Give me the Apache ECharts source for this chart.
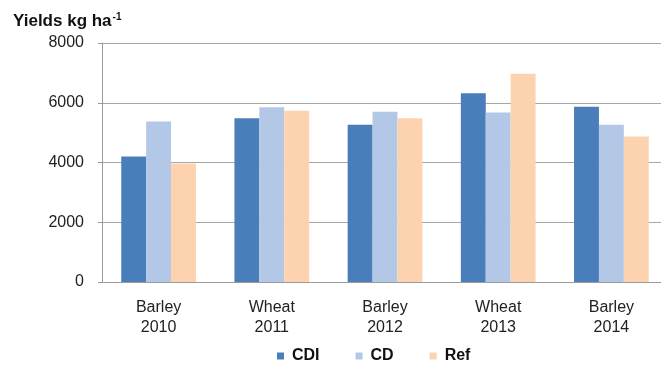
<!DOCTYPE html>
<html>
<head>
<meta charset="utf-8">
<script src="https://cdn.jsdelivr.net/npm/echarts@6/dist/echarts.min.js"></script>
<style>
  html, body { margin: 0; padding: 0; background: #fff; overflow: hidden; }
  /* the source picture is cropped on the right, so the plot runs a bit past the window */
  #chart { width: 668px; height: 367px; }
</style>
</head>
<body>
<div id="chart"></div>
<script>
// data
var categories = ["Barley\n2010", "Wheat\n2011", "Barley\n2012", "Wheat\n2013", "Barley\n2014"];
var cdi = [4200, 5480, 5260, 6320, 5870];
var cd = [5370, 5850, 5700, 5670, 5260];
var ref = [3970, 5730, 5480, 6970, 4870];
var yTicks = [0, 2000, 4000, 6000, 8000];

var chart = echarts.init(document.getElementById("chart"));
var font = "Liberation Sans, Arial, sans-serif";

chart.setOption({
  animation: false,
  textStyle: { fontFamily: font },
  title: {
    text: "{a|Yields kg ha}{s|-1}",
    left: 8,
    top: 7,
    textStyle: {
      rich: {
        a: { fontFamily: font, fontSize: 17, fontWeight: "bold", color: "#111" },
        s: { fontFamily: font, fontSize: 10, fontWeight: "bold", color: "#111", verticalAlign: "top", padding: [0, 0, 9, 1] }
      }
    }
  },
  legend: {
    top: 343,
    left: 272,
    itemWidth: 7,
    itemHeight: 7,
    itemGap: 36,
    icon: "rect",
    textStyle: { fontFamily: font, fontSize: 16, fontWeight: "bold", color: "#111", padding: [0, 0, 0, 3] },
    data: ["CDI", "CD", "Ref"]
  },
  grid: { left: 102, right: 0, top: 43, bottom: 85 },
  xAxis: {
    type: "category",
    data: categories,
    axisLine: { lineStyle: { color: "#9a9a9a" } },
    axisTick: { show: false },
    axisLabel: { fontFamily: font, fontSize: 16, color: "#222", lineHeight: 20, margin: 16 }
  },
  yAxis: {
    type: "value",
    min: yTicks[0],
    max: yTicks[yTicks.length - 1],
    interval: 2000,
    axisLine: { show: true, lineStyle: { color: "#9a9a9a" } },
    axisTick: { show: true, length: 4, lineStyle: { color: "#9a9a9a" } },
    axisLabel: { fontFamily: font, fontSize: 16, color: "#222", margin: 18, formatter: function (v) { return String(v); } },
    splitLine: { lineStyle: { color: "#a6a6a6" } }
  },
  series: [
    { name: "CDI", type: "bar", data: cdi, itemStyle: { color: "#4a7ebb" }, barGap: "0%", barCategoryGap: "34%" },
    { name: "CD", type: "bar", data: cd, itemStyle: { color: "#b3c7e6" } },
    { name: "Ref", type: "bar", data: ref, itemStyle: { color: "#fcd3ae" } }
  ]
});
</script>
</body>
</html>
